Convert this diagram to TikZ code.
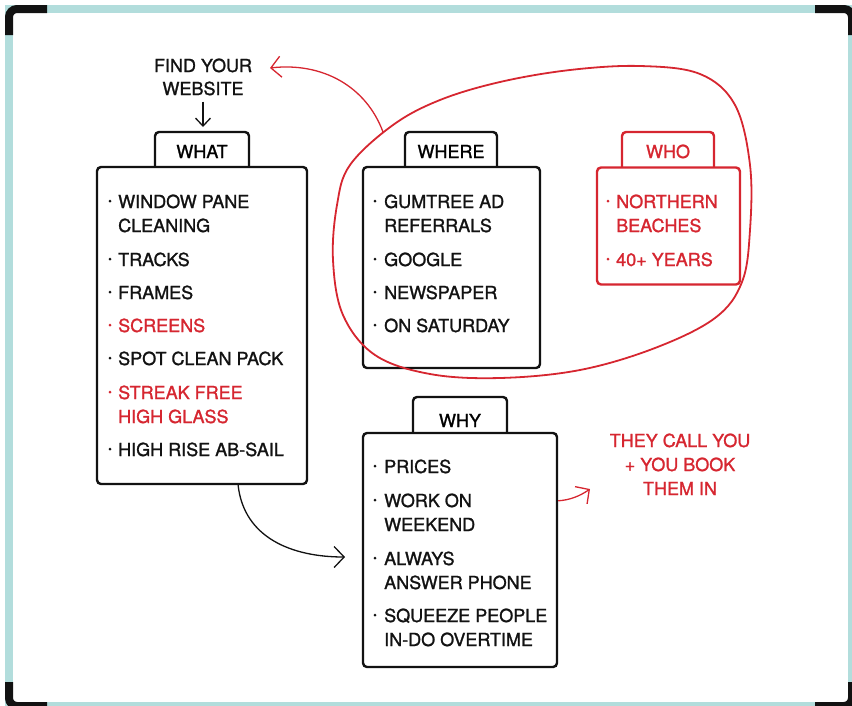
\documentclass[tikz,border=0pt]{standalone}
\usepackage{fontspec}
\setmainfont{TeX Gyre Heros}[FakeBold=1.3]
\usetikzlibrary{arrows.meta,calc}
\definecolor{ink}{RGB}{18,18,18}
\definecolor{accent}{RGB}{214,38,48}
\definecolor{frameteal}{RGB}{178,221,220}

% one list entry line: name, x, baseline y, text
\newcommand\entryline[4]{\node[itm] (#1) at (#2,#3) {#4};}
% a bullet dot placed in front of an entry
\newcommand\bulletdot[2]{\fill (#1,#2+3) circle (1.5pt);}

\begin{document}
\begin{tikzpicture}[x=1pt,y=-1pt,
  card/.style={draw=ink, line width=2.4pt, rounded corners=4pt, fill=white, inner sep=0pt},
  tabline/.style={draw=ink, line width=2.4pt, rounded corners=4pt},
  itm/.style={font=\fontsize{18}{24}\selectfont, inner sep=0pt, anchor=base west},
  ctr/.style={font=\fontsize{18}{24}\selectfont, inner sep=0pt, anchor=base},
  thin/.style={line width=1.3pt},
  barb/.style={-{Straight Barb[length=10pt,width=21pt]}},
  smallbarb/.style={-{Straight Barb[length=8pt,width=15pt]}}]

\useasboundingbox (0,0) rectangle (852,705);
\clip (0,0) rectangle (852,705);

% outer frame with dark corner pieces
\draw[frameteal, line width=8pt] (9,9) rectangle (852,706);
\begin{scope}[line width=8pt, draw=ink, rounded corners=8pt]
  \draw (9,35) |- (47,9);
  \draw (815,9) -| (852,35);
  \draw (9,682) |- (47,706);
  \draw (815,706) -| (852,682);
\end{scope}

% ---------- WHAT ----------
\draw[tabline] (155,167) |- (202,132) -| (249,167);
\node[card, minimum width=210pt, minimum height=317pt] (whatbox) at (202,325.5) {};
\node[ctr] (whatlbl) at (202,158) {WHAT};

\begin{scope}[text=ink, fill=ink]
  \bulletdot{110}{198}\entryline{w1a}{118}{208}{WINDOW PANE}
  \entryline{w1b}{118}{232}{CLEANING}
  \bulletdot{110}{256}\entryline{w2}{118}{266}{TRACKS}
  \bulletdot{110}{289}\entryline{w3}{118}{299}{FRAMES}
  \bulletdot{110}{355}\entryline{w5}{118}{365}{SPOT CLEAN PACK}
  \bulletdot{110}{446}\entryline{w7}{118}{456}{HIGH RISE AB-SAIL}
\end{scope}
\begin{scope}[text=accent, fill=accent]
  \bulletdot{110}{322}\entryline{w4}{118}{332}{SCREENS}
  \bulletdot{110}{389}\entryline{w6a}{118}{399}{STREAK FREE}
  \entryline{w6b}{118}{423}{HIGH GLASS}
\end{scope}

% ---------- WHERE ----------
\draw[tabline] (405,167) |- (451,132) -| (497,167);
\node[card, minimum width=177pt, minimum height=201pt] (wherebox) at (451.5,267.5) {};
\node[ctr] (wherelbl) at (451,158) {WHERE};
\begin{scope}[text=ink, fill=ink]
  \bulletdot{375}{198}\entryline{r1a}{384}{208}{GUMTREE AD}
  \entryline{r1b}{384}{232}{REFERRALS}
  \bulletdot{375}{256}\entryline{r2}{384}{266}{GOOGLE}
  \bulletdot{375}{289}\entryline{r3}{384}{299}{NEWSPAPER}
  \bulletdot{375}{322}\entryline{r4}{384}{332}{ON SATURDAY}
\end{scope}

% ---------- WHO ----------
\draw[tabline, draw=accent] (622,167) |- (668,132) -| (714,167);
\node[card, draw=accent, minimum width=143pt, minimum height=117pt] (whobox) at (668.5,226) {};
\node[ctr, text=accent] (wholbl) at (668,158) {WHO};
\begin{scope}[text=accent, fill=accent]
  \bulletdot{608}{198}\entryline{o1a}{616}{208}{NORTHERN}
  \entryline{o1b}{616}{232}{BEACHES}
  \bulletdot{608}{256}\entryline{o2}{616}{266}{40+ YEARS}
\end{scope}

% ---------- WHY ----------
\draw[tabline] (413,433) |- (460,397) -| (507,433);
\node[card, minimum width=194pt, minimum height=234pt] (whybox) at (460,550) {};
\node[ctr] (whylbl) at (460,427) {WHY};
\begin{scope}[text=ink, fill=ink]
  \bulletdot{375}{463}\entryline{y1}{384}{473}{PRICES}
  \bulletdot{375}{497}\entryline{y2a}{384}{507}{WORK ON}
  \entryline{y2b}{384}{531}{WEEKEND}
  \bulletdot{375}{555}\entryline{y3a}{384}{565}{ALWAYS}
  \entryline{y3b}{384}{589}{ANSWER PHONE}
  \bulletdot{375}{612}\entryline{y4a}{384}{622}{SQUEEZE PEOPLE}
  \entryline{y4b}{384}{646}{IN-DO OVERTIME}
\end{scope}

% ---------- free texts ----------
\node[ctr, text=ink] (find1) at (203,72) {FIND YOUR};
\node[ctr, text=ink] (find2) at (203,95) {WEBSITE};
\node[ctr, text=accent] (call1) at (680,447) {THEY CALL YOU};
\node[ctr, text=accent] (call2) at (680,471) {+ YOU BOOK};
\node[ctr, text=accent] (call3) at (680,495) {THEM IN};

% ---------- connectors ----------
\coordinate (findtip) at (203,127);
\draw[ink, thin, smallbarb] ($(find2.south)+(0,6)$) -- (findtip);

% loop round the WHERE and WHO cards
\draw[accent, line width=1.8pt] plot[smooth cycle, tension=0.6] coordinates {
  (350,165) (393,125) (440,100) (500,82) (570,70) (640,66) (700,74)
  (735,105) (750,165) (750,230) (742,282) (715,318) (655,348) (580,370)
  (500,378) (430,374) (375,355) (343,315) (333,260) (337,205)};

\coordinate (loopstart) at (383,132);
\coordinate (backtip) at (270,68);
\draw[accent, thin, barb] (loopstart) .. controls (366,86) and (322,62) .. (backtip);

\coordinate (whattail) at ($(whatbox.south west)!0.67!(whatbox.south east)$);
\coordinate (whytip) at (345,557);
\draw[ink, thin, barb] (whattail) .. controls (244,538) and (292,557) .. (whytip);

\coordinate (whytail) at ($(whybox.north east)+(0,69)$);
\coordinate (calltip) at (590,489);
\draw[accent, thin, barb] (whytail) .. controls (570,500) and (580,496) .. (calltip);

\end{tikzpicture}
\end{document}
